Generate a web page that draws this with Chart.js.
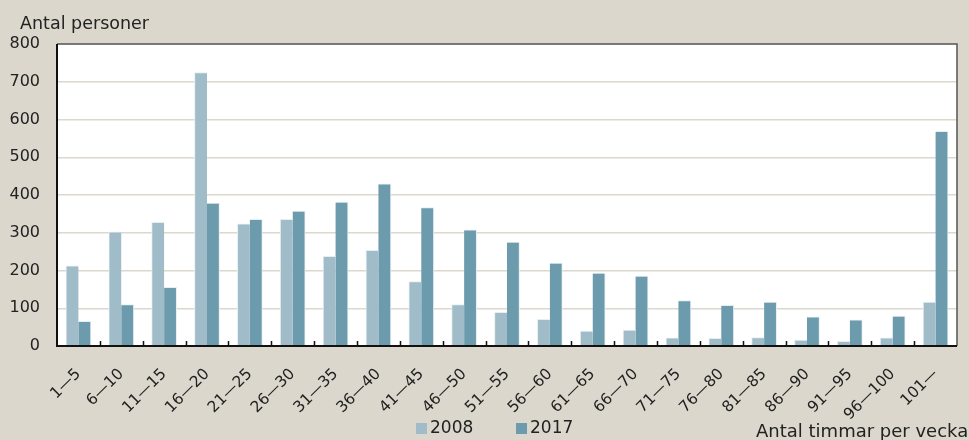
<!DOCTYPE html>
<html>
<head>
<meta charset="utf-8">
<script src="https://cdn.jsdelivr.net/npm/chart.js@4.4.1/dist/chart.umd.min.js"></script>
<style>
  html, body { margin: 0; padding: 0; background: #dcd7cc; }
  #wrap { width: 969px; height: 440px; position: relative; }
</style>
</head>
<body>
<div id="wrap"><canvas id="hoursChart"></canvas></div>
<script>
const categories = [
  "1\u20145", "6\u201410", "11\u201415", "16\u201420", "21\u201425", "26\u201430", "31\u201435",
  "36\u201440", "41\u201445", "46\u201450", "51\u201455", "56\u201460", "61\u201465", "66\u201470",
  "71\u201475", "76\u201480", "81\u201485", "86\u201490", "91\u201495", "96\u2014100", "101\u2014"
];
const values2008 = [212, 302, 327, 724, 323, 335, 237, 253, 170, 109, 89, 70, 39, 42, 21, 20, 22, 15, 12, 21, 116];
const values2017 = [65, 109, 155, 378, 335, 357, 381, 429, 366, 307, 275, 219, 193, 185, 120, 107, 116, 77, 69, 79, 568];
const yTicks = [0, 100, 200, 300, 400, 500, 600, 700, 800];

const fontFamily = "'DejaVu Sans', 'Liberation Sans', sans-serif";

// background, white plot area, frame, small inward ticks, legend and axis titles
const decorPlugin = {
  id: "decor",
  beforeDraw(chart) {
    const { ctx, chartArea: a } = chart;
    ctx.save();
    ctx.fillStyle = "#dcd7cc";
    ctx.fillRect(0, 0, chart.width, chart.height);
    ctx.fillStyle = "#ffffff";
    ctx.fillRect(a.left, a.top, a.right - a.left, a.bottom - a.top);
    ctx.restore();
  },
  afterDraw(chart) {
    const { ctx, chartArea: a } = chart;
    const x = chart.scales.x;
    ctx.save();
    // top and right frame
    ctx.strokeStyle = "#555555";
    ctx.lineWidth = 1.5;
    ctx.beginPath();
    ctx.moveTo(a.left, a.top);
    ctx.lineTo(a.right, a.top);
    ctx.lineTo(a.right, a.bottom);
    ctx.stroke();
    // left and bottom axis lines
    ctx.strokeStyle = "#111111";
    ctx.lineWidth = 2;
    ctx.beginPath();
    ctx.moveTo(a.left, a.top);
    ctx.lineTo(a.left, a.bottom);
    ctx.lineTo(a.right, a.bottom);
    ctx.stroke();
    // tick marks between categories, pointing up
    ctx.lineWidth = 1.5;
    ctx.beginPath();
    for (let i = 1; i < categories.length; i++) {
      const px = Math.round((x.getPixelForValue(i - 1) + x.getPixelForValue(i)) / 2) + 0.5;
      ctx.moveTo(px, a.bottom);
      ctx.lineTo(px, a.bottom - 5);
    }
    ctx.stroke();

    // legend
    ctx.font = "17px " + fontFamily;
    ctx.textBaseline = "middle";
    ctx.textAlign = "left";
    const legendX = [416, 516];
    chart.data.datasets.forEach((ds, i) => {
      ctx.fillStyle = ds.backgroundColor;
      ctx.fillRect(legendX[i], 423, 11, 11);
      ctx.fillStyle = "#222222";
      ctx.fillText(ds.label, legendX[i] + 14, 429);
    });

    // axis titles
    ctx.fillStyle = "#222222";
    ctx.textBaseline = "alphabetic";
    ctx.font = "17.5px " + fontFamily;
    ctx.fillText("Antal personer", 20, 29);
    ctx.font = "18px " + fontFamily;
    ctx.fillText("Antal timmar per vecka", 756, 437);
    ctx.restore();
  }
};

const ctx = document.getElementById("hoursChart").getContext("2d");

new Chart(ctx, {
  type: "bar",
  data: {
    labels: categories,
    datasets: [
      {
        label: "2008",
        data: values2008,
        backgroundColor: "#a0bcc8",
        borderColor: "#e6eef1",
        borderWidth: { top: 1, left: 1, right: 0, bottom: 0 },
        inflateAmount: 0.5,
      },
      {
        label: "2017",
        data: values2017,
        backgroundColor: "#6c9bad",
        borderColor: "#e6eef1",
        borderWidth: { top: 1, left: 0, right: 1, bottom: 0 },
        inflateAmount: 0.5,
      },
    ],
  },
  options: {
    responsive: true,
    maintainAspectRatio: false,
    animation: false,
    events: [],
    barPercentage: 1,
    categoryPercentage: 0.575,
    layout: {
      padding: { top: 44, right: 12, bottom: 0, left: 0 },
    },
    plugins: {
      legend: { display: false },
      title: { display: false },
      tooltip: { enabled: false },
    },
    scales: {
      y: {
        min: 0,
        max: 800,
        afterBuildTicks: (scale) => {
          scale.ticks = yTicks.map((v) => ({ value: v }));
        },
        afterFit: (scale) => {
          scale.width = 57;
        },
        grid: {
          color: "#ddd8ce",
          lineWidth: 1.5,
          drawTicks: false,
        },
        border: { display: false },
        ticks: {
          padding: 17,
          color: "#222",
          font: { family: fontFamily, size: 16 },
        },
      },
      x: {
        afterFit: (scale) => {
          scale.height = 94;
        },
        grid: { display: false },
        border: { display: false },
        ticks: {
          minRotation: 45,
          maxRotation: 45,
          autoSkip: false,
          padding: 11,
          color: "#222",
          font: { family: fontFamily, size: 15.5 },
        },
      },
    },
  },
  plugins: [decorPlugin],
});
</script>
</body>
</html>
